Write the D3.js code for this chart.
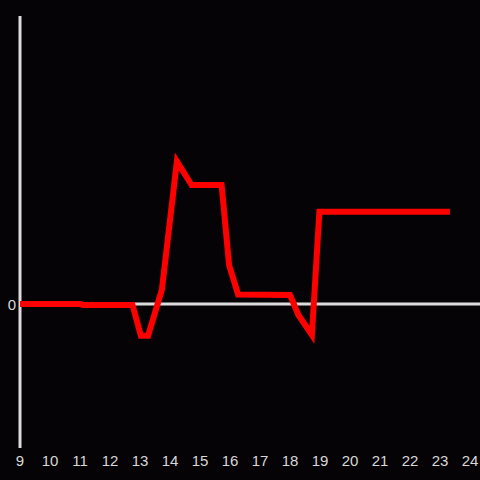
<!doctype html>
<html lang="en">
<head>
<meta charset="utf-8">
<script src="https://cdnjs.cloudflare.com/ajax/libs/d3/7.8.5/d3.min.js"></script>
<style>
  html, body { margin: 0; padding: 0; background: #050306; }
  svg { display: block; }
  .tick-label { font-family: 'Liberation Sans', Arial, sans-serif; font-size: 15px; fill: #d8d8d8; }
</style>
</head>
<body>
<script>
// Data (x in hours, y in relative units)
const xs = [9, 11, 11.1, 12.75, 13.03, 13.27, 13.73, 14.23, 14.72, 15.72, 15.97, 16.27, 18.0, 18.28, 18.73, 18.98, 23.33];
const ys = [0, 0, -0.007, -0.007, -0.22, -0.22, 0.10, 0.99, 0.826, 0.826, 0.27, 0.066, 0.063, -0.076, -0.215, 0.64, 0.64];
const xTicks = [9, 10, 11, 12, 13, 14, 15, 16, 17, 18, 19, 20, 21, 22, 23, 24];
const yTicks = [0];

const w = 480, h = 480;

const xScale = d3.scaleLinear().domain([9, 24]).range([20, 470]);
const yScale = d3.scaleLinear().domain([-1, 2]).range([448, 16]);

const svg = d3.select("body").append("svg")
  .attr("width", w)
  .attr("height", h);

svg.append("rect").attr("width", w).attr("height", h).attr("fill", "#050306");

// y axis line
svg.append("line")
  .attr("x1", xScale(9)).attr("x2", xScale(9))
  .attr("y1", yScale(2)).attr("y2", yScale(-1))
  .attr("stroke", "#dcdcdc").attr("stroke-width", 3);

// zero line
svg.append("line")
  .attr("x1", xScale(9)).attr("x2", w)
  .attr("y1", yScale(0)).attr("y2", yScale(0))
  .attr("stroke", "#dcdcdc").attr("stroke-width", 3);

// x tick labels
svg.selectAll("text.x")
  .data(xTicks)
  .enter()
  .append("text")
  .attr("class", "tick-label x")
  .attr("x", d => xScale(d))
  .attr("y", 466)
  .attr("text-anchor", "middle")
  .text(d => d);

// y tick labels
svg.selectAll("text.y")
  .data(yTicks)
  .enter()
  .append("text")
  .attr("class", "tick-label y")
  .attr("x", 16)
  .attr("y", d => yScale(d) + 6)
  .attr("text-anchor", "end")
  .text(d => d);

// the red series
const line = d3.line()
  .x(d => xScale(d[0]))
  .y(d => yScale(d[1]));

svg.append("path")
  .datum(xs.map((x, i) => [x, ys[i]]))
  .attr("d", line)
  .attr("fill", "none")
  .attr("stroke", "#ff0000")
  .attr("stroke-width", 6)
  .attr("stroke-linejoin", "miter");
</script>
</body>
</html>
